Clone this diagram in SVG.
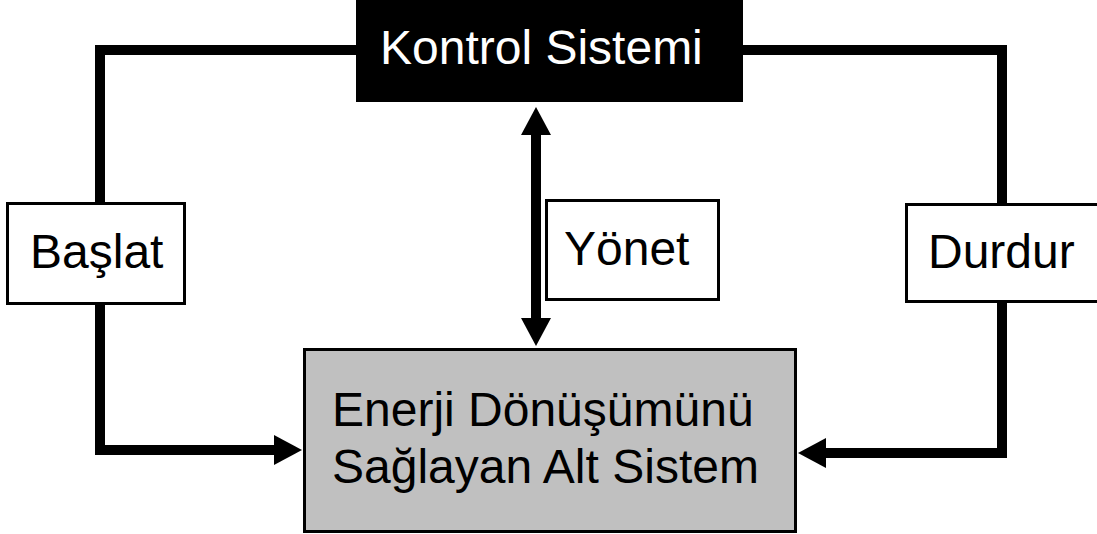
<svg xmlns="http://www.w3.org/2000/svg" width="1097" height="534" viewBox="0 0 1097 534">
  <style>
    .lbl { font-family: "Liberation Sans", Arial, sans-serif; font-size: 48px; fill: #000; }
    .inv { fill: #fff; }
    .box { fill: #fff; stroke: #000; stroke-width: 3; }
    .wire { fill: none; stroke: #000; stroke-width: 10; stroke-linejoin: miter; stroke-linecap: butt; }
  </style>
  <defs>
    <marker id="head" viewBox="0 0 28 30" refX="1" refY="15" markerWidth="28" markerHeight="30" markerUnits="userSpaceOnUse" orient="auto-start-reverse">
      <path d="M0,0 L28,15 L0,30 z" fill="#000"/>
    </marker>
  </defs>
  <rect width="1097" height="534" fill="#fff"/>

  <g id="connectors">
    <path class="wire" d="M356,50 H100 V450 H275" marker-end="url(#head)"/>
    <path class="wire" d="M743,50 H1002 V453 H825" marker-end="url(#head)"/>
    <path class="wire" d="M536,134 V319" marker-start="url(#head)" marker-end="url(#head)"/>
  </g>

  <g id="kontrol">
    <rect x="356" y="-5" width="387" height="107" fill="#000"/>
    <text class="lbl inv" x="380" y="64">Kontrol Sistemi</text>
  </g>

  <g id="baslat">
    <rect class="box" x="7.5" y="203.5" width="177" height="100"/>
    <text class="lbl" x="30" y="268">Başlat</text>
  </g>

  <g id="yonet">
    <rect class="box" x="546.5" y="200.5" width="172" height="99"/>
    <text class="lbl" x="564" y="265">Yönet</text>
  </g>

  <g id="durdur">
    <rect class="box" x="906.5" y="204.5" width="200" height="97"/>
    <text class="lbl" x="928" y="268">Durdur</text>
  </g>

  <g id="enerji">
    <rect x="304.5" y="349.5" width="491" height="182" fill="#c0c0c0" stroke="#000" stroke-width="3"/>
    <text class="lbl" x="332" y="426">Enerji Dönüşümünü</text>
    <text class="lbl" x="332" y="483">Sağlayan Alt Sistem</text>
  </g>
</svg>
